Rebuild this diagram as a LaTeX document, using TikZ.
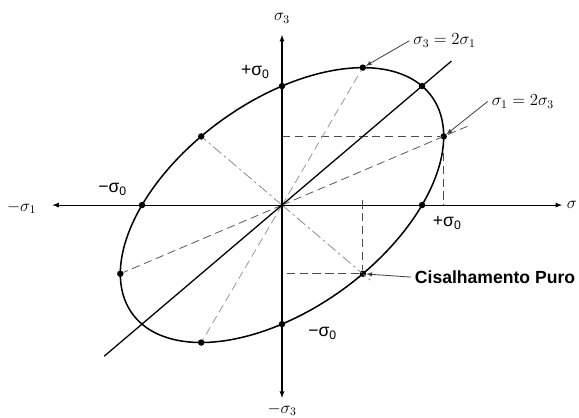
\documentclass[tikz,border=0pt]{standalone}
\usepackage{fontspec}
\newfontfamily\labfont{Liberation Sans}
\begin{document}
\begin{tikzpicture}[
    x=4.2cm, y=3.57cm,
    axis/.style={draw, line width=0.9pt, -latex},
    dot/.style={circle, fill, inner sep=0pt, minimum size=5.5pt},
    guide/.style={draw, line width=0.7pt, dash pattern=on 7pt off 4pt, black!70},
    ray/.style={draw, line width=0.7pt, dash pattern=on 7pt off 4pt, black!65},
    faint/.style={draw, line width=0.7pt, dash pattern=on 7pt off 4pt, black!40},
    shear/.style={draw, line width=0.7pt, dash pattern=on 9pt off 3pt on 2pt off 3pt, black!45},
    note/.style={-latex, line width=0.7pt, black!75},
    sig/.style={font=\labfont\fontsize{15}{17}\selectfont},
    font=\fontsize{14.5}{16}\selectfont
  ]
  \useasboundingbox (-2.014,-1.782) rectangle (2.121,1.723);
  \coordinate (O) at (0,0);
  \coordinate (xl) at (-1.64,0);
  \coordinate (xr) at (2.0,0);
  \coordinate (yt) at (0,1.43);
  \coordinate (yb) at (0,-1.62);
  \coordinate (dl) at (-1.27,-1.27);
  \coordinate (du) at (1.21,1.21);
  \coordinate (ya) at (0,0.577);
  \coordinate (yc) at (0,-0.577);
  \coordinate (xa) at (1.155,0);
  \coordinate (xc) at (0.577,0.04);
  \coordinate (bx) at (1.34,0.67);
  \coordinate (cx) at (0.64,-0.64);

  % points on the yield ellipse
  \node[dot] (s3p) at (0,1) {};
  \node[dot] (s1m) at (-1,0) {};
  \node[dot] (s1p) at (1,0) {};
  \node[dot] (s3m) at (0,-1) {};
  \node[dot] (bi) at (1,1) {};
  \node[dot] (ta) at (0.577,1.155) {};
  \node[dot] (tb) at (1.155,0.577) {};
  \node[dot] (tc) at (-1.155,-0.577) {};
  \node[dot] (td) at (-0.577,-1.155) {};
  \node[dot] (cp) at (0.577,-0.577) {};
  \node[dot] (cm) at (-0.577,0.577) {};

  % dashed construction lines
  \draw[guide] (ya) -- (tb) -- (xa);
  \draw[guide] (xc) -- (cp) -- (yc);
  \draw[ray] (O) -- (bx);
  \draw[ray] (O) -- (tc);
  \draw[faint] (O) -- (ta);
  \draw[faint] (O) -- (td);
  \draw[shear] (O) -- (cm);
  \draw[shear] (O) -- (cx);

  \draw[line width=1.3pt] plot[variable=\t, domain=0:360, samples=145, smooth]
    ({cos(\t)-sin(\t)/sqrt(3)}, {cos(\t)+sin(\t)/sqrt(3)});
  \draw[line width=1.1pt] (dl) -- (du);
  \draw[axis] (O) -- (xr);
  \draw[axis] (O) -- (xl);
  \draw[axis] (O) -- (yt);
  \draw[axis] (O) -- (yb);

  \node (ax3) at (0,1.57) {$\sigma_3$};
  \node (ax1m) at (-1.86,-0.02) {$-\sigma_1$};
  \node (ax1) at (2.07,0) {$\sigma$};
  \node (ax3m) at (0,-1.72) {$-\sigma_3$};

  \node[sig] (l3p) at (-0.19,1.12) {+σ\textsubscript{0}};
  \node[sig] (l1m) at (-1.21,0.13) {−σ\textsubscript{0}};
  \node[sig] (l1p) at (1.18,-0.15) {+σ\textsubscript{0}};
  \node[sig] (l3m) at (0.29,-1.08) {−σ\textsubscript{0}};

  \node (l3) at (1.16,1.38) {$\sigma_3 = 2\sigma_1$};
  \draw[note] (l3.west) -- (ta);
  \node (l1) at (1.72,0.87) {$\sigma_1 = 2\sigma_3$};
  \draw[note] (l1.west) -- (tb);
  \node[anchor=west, font=\labfont\bfseries\fontsize{15}{17}\selectfont] (cis) at (0.92,-0.605) {Cisalhamento Puro};
  \draw[note] (cis.west) -- (cp);
\end{tikzpicture}
\end{document}
